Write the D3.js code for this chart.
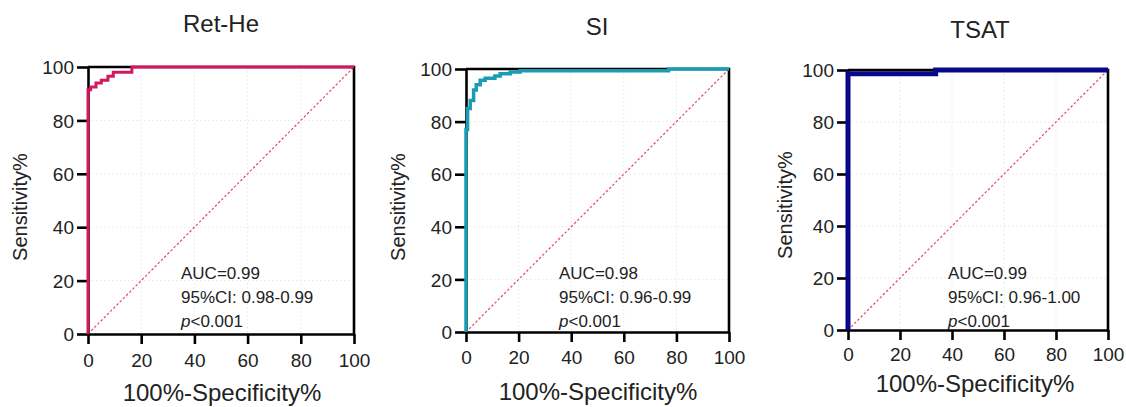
<!DOCTYPE html>
<html>
<head>
<meta charset="utf-8">
<script src="https://cdn.jsdelivr.net/npm/d3@7"></script>
<style>
  html, body { margin: 0; padding: 0; background: #fff; }
  svg { display: block; font-family: Arial, "Liberation Sans", Helvetica, sans-serif; }
</style>
</head>
<body>
<svg id="chart" width="1126" height="407"></svg>
<script>
// ---- Data ----
const titles = ["Ret-He", "SI", "TSAT"];
const tickValues = [0, 20, 40, 60, 80, 100];
const gridValues = [20, 40, 60, 80];

const retHeSpec = [0, 0, 1, 3, 5, 7.5, 9.5, 16.5, 100];
const retHeSens = [0, 91.5, 92.5, 94, 95, 96.5, 98, 100, 100];

const siSpec = [0, 0, 0.6, 1.6, 2.9, 3.9, 5.4, 7.3, 11, 13, 16.8, 20.6, 77, 100];
const siSens = [0, 77, 85, 88, 92, 94, 95.7, 96.5, 97.3, 98.2, 98.9, 99.3, 100, 100];

const tsatSpec = [0, 0, 33.7, 100];
const tsatSens = [0, 98.6, 100, 100];

const aucLabels = ["AUC=0.99", "AUC=0.98", "AUC=0.99"];
const ciLabels = ["95%CI: 0.98-0.99", "95%CI: 0.96-0.99", "95%CI: 0.96-1.00"];
const pLabels = ["<0.001", "<0.001", "<0.001"];
const xTitle = "100%-Specificity%";
const yTitle = "Sensitivity%";

// ---- Layout (styles / positions) ----
const panels = [
  { spec: retHeSpec, sens: retHeSens, color: "#d6165f", width: 3,
    x0: 88, x1: 354, yTop: 67, yBot: 334, titleX: 221, titleY: 32,
    xTitleX: 222, xTitleY: 401, yTitleX: 27, yTitleY: 207, tickLabY: 360, annX: 181 },
  { spec: siSpec, sens: siSens, color: "#1a9cb3", width: 3.5,
    x0: 466, x1: 729, yTop: 69, yBot: 332, titleX: 597, titleY: 35,
    xTitleX: 598, xTitleY: 400, yTitleX: 405, yTitleY: 207, tickLabY: 357, annX: 559 },
  { spec: tsatSpec, sens: tsatSens, color: "#08088a", width: 5,
    x0: 848, x1: 1108, yTop: 70, yBot: 330, titleX: 980, titleY: 38,
    xTitleX: 975, xTitleY: 392, yTitleX: 792, yTitleY: 205, tickLabY: 354, annX: 948 }
];

const svg = d3.select("#chart");

panels.forEach((p, i) => {
  const x = d3.scaleLinear().domain([0, 100]).range([p.x0, p.x1]);
  const y = d3.scaleLinear().domain([0, 100]).range([p.yBot, p.yTop]);
  const g = svg.append("g");

  // grid
  g.append("g").selectAll("line").data(gridValues).join("line")
    .attr("x1", d => x(d)).attr("x2", d => x(d))
    .attr("y1", p.yTop).attr("y2", p.yBot)
    .attr("stroke", "#e6e6e6").attr("stroke-width", 1).attr("stroke-dasharray", "1.5,2.5");
  g.append("g").selectAll("line").data(gridValues).join("line")
    .attr("y1", d => y(d)).attr("y2", d => y(d))
    .attr("x1", p.x0).attr("x2", p.x1)
    .attr("stroke", "#e6e6e6").attr("stroke-width", 1).attr("stroke-dasharray", "1.5,2.5");

  // diagonal reference
  g.append("line")
    .attr("x1", x(0)).attr("y1", y(0)).attr("x2", x(100)).attr("y2", y(100))
    .attr("stroke", "#e8485f").attr("stroke-width", 1.2).attr("stroke-dasharray", "2.5,2");

  // frame top + right
  g.append("path")
    .attr("d", `M${x(0)},${y(100)}H${x(100)}V${y(0)}`)
    .attr("fill", "none").attr("stroke", "#000").attr("stroke-width", 2.6);

  // axes
  const xAxis = d3.axisBottom(x).tickValues(tickValues).tickSize(10).tickSizeOuter(0).tickFormat(d3.format("d"));
  const yAxis = d3.axisLeft(y).tickValues(tickValues).tickSize(11).tickSizeOuter(0).tickFormat(d3.format("d"));

  const gx = g.append("g").attr("transform", `translate(0,${p.yBot})`).call(xAxis);
  const gy = g.append("g").attr("transform", `translate(${p.x0},0)`).call(yAxis);
  [gx, gy].forEach(a => {
    a.select(".domain").attr("stroke", "#000").attr("stroke-width", 2.6);
    a.selectAll(".tick line").attr("stroke", "#000").attr("stroke-width", 2.6);
    a.selectAll(".tick text").attr("font-size", 19).attr("fill", "#222")
      .attr("font-family", "Arial, 'Liberation Sans', sans-serif");
  });
  gx.selectAll(".tick text").attr("y", p.tickLabY - p.yBot).attr("dy", "0.35em");
  gy.selectAll(".tick text").attr("x", -14).attr("dy", "0.35em");

  // ROC curve
  const pts = p.spec.map((s, k) => [s, p.sens[k]]);
  const line = d3.line().x(d => x(d[0])).y(d => y(d[1])).curve(d3.curveStepAfter);
  g.append("path").datum(pts)
    .attr("d", line)
    .attr("fill", "none").attr("stroke", p.color).attr("stroke-width", p.width)
    .attr("stroke-linejoin", "miter").attr("stroke-linecap", "butt");

  // titles
  g.append("text").attr("x", p.titleX).attr("y", p.titleY)
    .attr("text-anchor", "middle").attr("font-size", 24).attr("fill", "#222").text(titles[i]);
  g.append("text").attr("x", p.xTitleX).attr("y", p.xTitleY)
    .attr("text-anchor", "middle").attr("font-size", 24).attr("fill", "#222").text(xTitle);
  g.append("text").attr("transform", `translate(${p.yTitleX},${p.yTitleY}) rotate(-90)`)
    .attr("text-anchor", "middle").attr("font-size", 20).attr("fill", "#222").text(yTitle);

  // annotation
  const ann = g.append("g").attr("font-size", 17).attr("fill", "#222");
  ann.append("text").attr("x", p.annX).attr("y", 279).text(aucLabels[i]);
  ann.append("text").attr("x", p.annX).attr("y", 303).text(ciLabels[i]);
  const pt = ann.append("text").attr("x", p.annX).attr("y", 327);
  pt.append("tspan").attr("font-style", "italic").text("p");
  pt.append("tspan").text(pLabels[i]);
});
</script>
</body>
</html>
